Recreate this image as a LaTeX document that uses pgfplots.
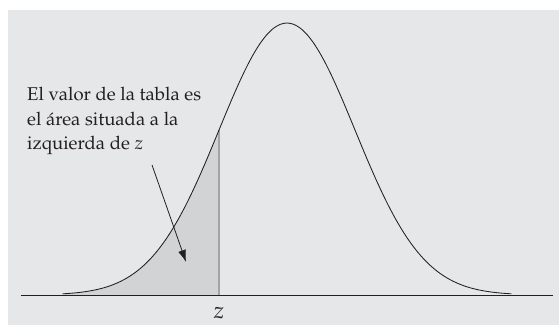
\documentclass[border=0pt]{standalone}
\usepackage[T1]{fontenc}
\usepackage{mathpazo}
\usepackage{pgfplots}
\pgfplotsset{compat=1.18}
\usetikzlibrary{arrows.meta}
\definecolor{bg}{HTML}{E6E7E9}
\definecolor{shade}{HTML}{D2D3D5}
\definecolor{zline}{HTML}{A3A4A6}
\definecolor{ink}{HTML}{231F20}
\begin{document}
\begin{tikzpicture}
\begin{axis}[
  width=559pt, height=325pt, scale only axis,
  xmin=-4.2206, xmax=4.0, ymin=-0.11029, ymax=1.08456,
  hide axis, clip=false,
]
\fill[white] (axis cs:-4.2206,-0.11029) rectangle (axis cs:4.0,1.08456);
\fill[bg] (axis cs:-4.1029,-0.11029) rectangle (axis cs:4.0,1.04779);
% shaded area left of z
\addplot[fill=shade, draw=none] coordinates {
(-3.3,0.00432)(-3.2,0.00598)(-3.1,0.00819)(-3.0,0.01111)(-2.9,0.01492)
(-2.8,0.01984)(-2.7,0.02612)(-2.6,0.03405)(-2.5,0.04394)(-2.4,0.05613)
(-2.3,0.07100)(-2.2,0.08892)(-2.1,0.11025)(-2.0,0.13534)(-1.9,0.16447)
(-1.8,0.19790)(-1.7,0.23575)(-1.6,0.27804)(-1.5,0.32465)(-1.4,0.37531)
(-1.3,0.42956)(-1.2,0.48675)(-1.1,0.54607)(-1.0,0.60653)
} \closedcycle;
% z line
\addplot[zline, line width=1.1pt] coordinates {(-1.0,0)(-1.0,0.60653)};
% baseline
\addplot[ink, line width=1pt] coordinates {(-3.9118,0)(3.9118,0)};
% normal curve
\addplot[ink, line width=0.85pt, smooth] coordinates {
(-3.3,0.00432)(-3.2,0.00598)(-3.1,0.00819)(-3.0,0.01111)(-2.9,0.01492)
(-2.8,0.01984)(-2.7,0.02612)(-2.6,0.03405)(-2.5,0.04394)(-2.4,0.05613)
(-2.3,0.07100)(-2.2,0.08892)(-2.1,0.11025)(-2.0,0.13534)(-1.9,0.16447)
(-1.8,0.19790)(-1.7,0.23575)(-1.6,0.27804)(-1.5,0.32465)(-1.4,0.37531)
(-1.3,0.42956)(-1.2,0.48675)(-1.1,0.54607)(-1.0,0.60653)(-0.9,0.66698)
(-0.8,0.72615)(-0.7,0.78270)(-0.6,0.83527)(-0.5,0.88250)(-0.4,0.92312)
(-0.3,0.95600)(-0.2,0.98020)(-0.1,0.99501)(0.0,1.00000)(0.1,0.99501)
(0.2,0.98020)(0.3,0.95600)(0.4,0.92312)(0.5,0.88250)(0.6,0.83527)
(0.7,0.78270)(0.8,0.72615)(0.9,0.66698)(1.0,0.60653)(1.1,0.54607)
(1.2,0.48675)(1.3,0.42956)(1.4,0.37531)(1.5,0.32465)(1.6,0.27804)
(1.7,0.23575)(1.8,0.19790)(1.9,0.16447)(2.0,0.13534)(2.1,0.11025)
(2.2,0.08892)(2.3,0.07100)(2.4,0.05613)(2.5,0.04394)(2.6,0.03405)
(2.7,0.02612)(2.8,0.01984)(2.9,0.01492)(3.0,0.01111)(3.1,0.00819)
(3.2,0.00598)(3.3,0.00432)
};
% arrow
\draw[ink, line width=0.8pt, -{Latex[length=12pt,width=8pt]}] (axis cs:-1.985,0.4779) -- (axis cs:-1.485,0.1213);
% text
\node[anchor=base west, inner sep=0pt, text=ink, font=\fontsize{18.5}{25}\selectfont] at (axis cs:-3.8235,0.7169) {El valor de la tabla es};
\node[anchor=base west, inner sep=0pt, text=ink, font=\fontsize{18.5}{25}\selectfont] at (axis cs:-3.8235,0.6250) {el \'area situada a la};
\node[anchor=base west, inner sep=0pt, text=ink, font=\fontsize{18.5}{25}\selectfont] at (axis cs:-3.8235,0.5331) {izquierda de $z$};
\node[anchor=base, inner sep=0pt, text=ink, font=\fontsize{23}{28}\selectfont] at (axis cs:-1.0,-0.0882) {$z$};
\end{axis}
\end{tikzpicture}
\end{document}
